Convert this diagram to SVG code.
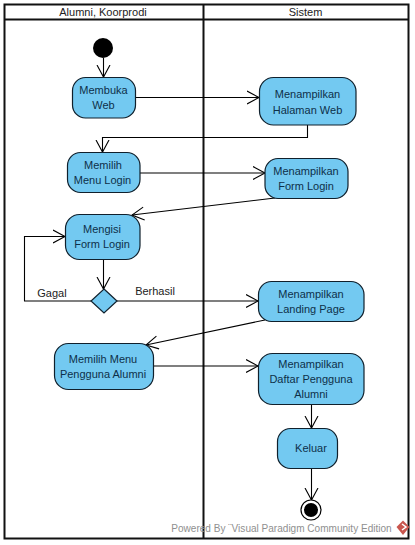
<svg xmlns="http://www.w3.org/2000/svg" width="415" height="545" viewBox="0 0 415 545">
<style>
text{font-family:"Liberation Sans",Arial,sans-serif;font-size:11px;text-anchor:middle}
.lane{fill:none;stroke:#111;stroke-width:2}
.n{fill:#73c9f1;stroke:#10202c;stroke-width:1.2}
.nt{fill:#0e3049}
.c{fill:none;stroke:#000;stroke-width:1.1;marker-end:url(#a)}
.lb{fill:#222}
</style>
<defs>
<marker id="a" markerUnits="userSpaceOnUse" markerWidth="14" markerHeight="16" refX="12.5" refY="7" orient="auto" viewBox="0 0 14 14">
<path d="M0.5 0.5L12.5 7L0.5 13.5" fill="none" stroke="#000" stroke-width="1.1"/>
</marker>
</defs>
<rect width="415" height="545" fill="#fff"/>
<g id="swimlanes">
<rect class="lane" x="4.5" y="4.5" width="404" height="534"/>
<line class="lane" x1="4.5" y1="19.5" x2="408.5" y2="19.5"/>
<line class="lane" x1="203.5" y1="4.5" x2="203.5" y2="538.500"/>
<text x="103" y="16" fill="#222">Alumni, Koorprodi</text>
<text x="305.5" y="16" fill="#222">Sistem</text>
</g>
<g id="connectors">
<path class="c" d="M103.5 58V77"/>
<path class="c" d="M135.5 97.500H259"/>
<path class="c" d="M307.500 125V137.500H102.500V152"/>
<path class="c" d="M140 173H265"/>
<path class="c" d="M275 198L132 215"/>
<path class="c" d="M103.500 259V289"/>
<path class="c" d="M91 301H24.500V236.500H65"/>
<path class="c" d="M117 301H258"/>
<path class="c" d="M265 320L146 345"/>
<path class="c" d="M153.500 366H258"/>
<path class="c" d="M311.500 404V428"/>
<path class="c" d="M311.500 468V500"/>
<text class="lb" x="52" y="297">Gagal</text>
<text class="lb" x="155" y="295">Berhasil</text>
</g>
<g id="start"><circle cx="103" cy="48" r="10" fill="#000"/></g>
<g id="membuka-web"><rect class="n" x="72.500" y="77.500" width="63" height="40.500" rx="13"/><text class="nt" x="103.500" y="94">Membuka</text><text class="nt" x="103.500" y="109">Web</text></g>
<g id="halaman-web"><rect class="n" x="259.500" y="77.500" width="96.500" height="47.500" rx="14"/><text class="nt" x="307.500" y="98">Menampilkan</text><text class="nt" x="307.500" y="114">Halaman Web</text></g>
<g id="memilih-login"><rect class="n" x="67.500" y="152.500" width="72.500" height="40" rx="13"/><text class="nt" x="103" y="169">Memilih</text><text class="nt" x="102.500" y="184">Menu Login</text></g>
<g id="form-login"><rect class="n" x="265" y="158.500" width="83" height="40" rx="13"/><text class="nt" x="306" y="175">Menampilkan</text><text class="nt" x="306" y="190">Form Login</text></g>
<g id="mengisi-form"><rect class="n" x="65.500" y="214.500" width="74.500" height="45" rx="14"/><text class="nt" x="102" y="233">Mengisi</text><text class="nt" x="102" y="248">Form Login</text></g>
<g id="decision"><polygon class="n" points="104,289 117,301 104,313 91,301"/></g>
<g id="landing-page"><rect class="n" x="258.500" y="281.500" width="105.500" height="40" rx="13"/><text class="nt" x="311" y="298">Menampilkan</text><text class="nt" x="311" y="313">Landing Page</text></g>
<g id="memilih-pengguna"><rect class="n" x="54.500" y="343.500" width="99" height="46" rx="14"/><text class="nt" x="103" y="363">Memilih Menu</text><text class="nt" x="103" y="378">Pengguna Alumni</text></g>
<g id="daftar-pengguna"><rect class="n" x="258.500" y="353.500" width="105.500" height="51" rx="14"/><text class="nt" x="311" y="368">Menampilkan</text><text class="nt" x="311" y="383">Daftar Pengguna</text><text class="nt" x="311" y="398">Alumni</text></g>
<g id="keluar"><rect class="n" x="277.500" y="428.500" width="60" height="40" rx="13"/><text class="nt" x="311" y="452">Keluar</text></g>
<g id="end"><circle cx="311" cy="510" r="10" fill="#fff" stroke="#000" stroke-width="1.2"/><circle cx="311" cy="510" r="7" fill="#000"/></g>
<g id="watermark">
<text x="281.500" y="532" fill="#8f8f8f" style="font-size:10.05px">Powered By ¨Visual Paradigm Community Edition</text>
<path d="M403 520.500L409.500 527L403 535L396.500 527Z" fill="#c9564e"/>
<path d="M402 524L406 527L402 530" fill="none" stroke="#fff" stroke-width="1.500"/>
</g>
</svg>
